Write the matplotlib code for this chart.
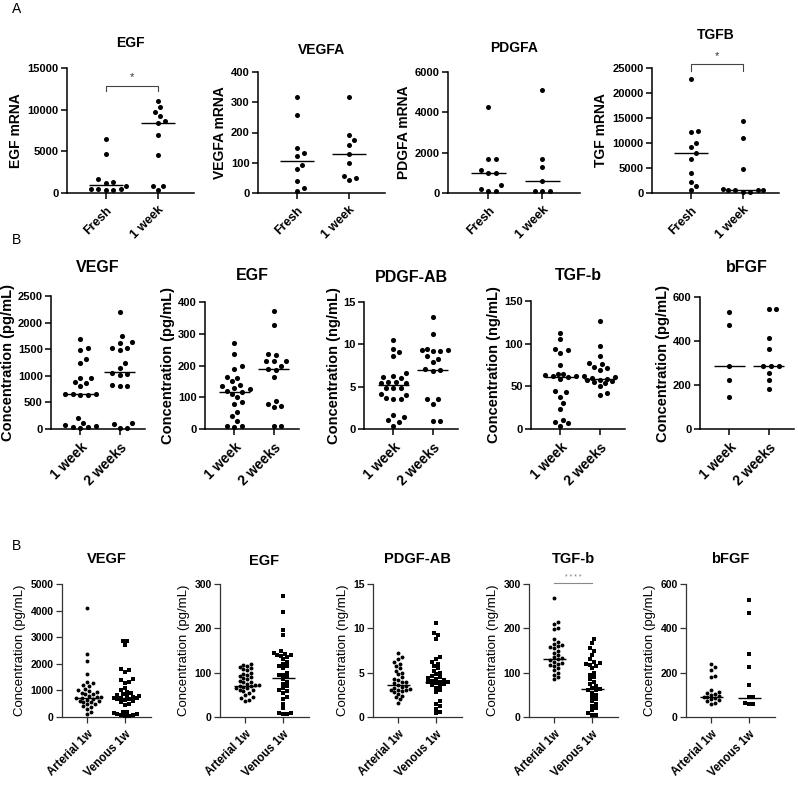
import numpy as np
import matplotlib
matplotlib.use("Agg")
import matplotlib.pyplot as plt

plt.rcParams['font.family'] = ['Liberation Sans', 'DejaVu Sans']

# ---------------- data: row A (mRNA) ----------------
a_groups = ["Fresh", "1 week"]
egf_fresh = [6500, 4700, 1650, 1250, 1350, 900, 350, 500, 500, 350, 500]
egf_1wk = [11100, 10300, 9700, 9200, 8600, 8400, 7000, 4600, 320, 800, 800]
egf_med = [920, 8400]
vegfa_fresh = [316, 259, 149, 132, 121, 94, 79, 39, 8, 17]
vegfa_1wk = [316, 191, 174, 159, 130, 99, 57, 42, 50]
vegfa_med = [107, 130]
pdgfa_fresh = [4260, 1690, 1690, 990, 990, 1120, 410, 120, 200, 120]
pdgfa_1wk = [5120, 1690, 1270, 580, 80, 80, 80]
pdgfa_med = [990, 580]
tgfb_fresh = [22800, 12200, 12500, 10100, 9300, 8000, 6800, 4000, 2300, 1500, 550]
tgfb_1wk = [14400, 11000, 4900, 550, 800, 550, 550, 550, 150, 150]
tgfb_med = [8000, 670]

# ---------------- data: row B (1 vs 2 weeks) ----------------
b_groups = ["1 week", "2 weeks"]
b_vegf_1 = [1690, 1530, 1490, 1310, 1240, 960, 950, 880, 860, 800, 650, 640, 640,
            650, 660, 210, 120, 60, 80, 40, 20, 30]
b_vegf_2 = [2200, 1740, 1630, 1620, 1530, 1520, 1480, 1240, 1140, 1060, 1030, 1010,
            810, 800, 820, 20, 90, 120, 10]
b_vegf_med = [655, 1063]
b_egf_1 = [272, 235, 197, 190, 165, 160, 150, 140, 135, 130, 125, 120, 117, 110,
           100, 85, 80, 55, 40, 25, 8, 6, 10]
b_egf_2 = [372, 327, 236, 233, 213, 215, 214, 197, 186, 188, 165, 79, 87, 68, 71, 8, 10]
b_egf_med = [116, 188]
b_pdgf_1 = [10.5, 9.1, 9.5, 8.6, 6.0, 6.2, 6.6, 6.3, 5.4, 5.5, 5.6, 5.4, 4.8, 4.9,
            4.9, 4.1, 4.0, 3.5, 3.5, 3.7, 1.1, 1.4, 1.6, 0.4, 0.8]
b_pdgf_2 = [13.2, 11.2, 9.4, 9.2, 9.3, 9.3, 9.2, 8.6, 8.3, 7.9, 7.1, 7.0, 6.8,
            3.6, 3.6, 3.0, 1.0, 1.0]
b_pdgf_med = [5.2, 7.0]
b_tgf_1 = [113, 105, 94, 92, 89, 75, 65, 64, 63, 62, 62, 61, 59, 44, 43, 38, 31,
           24, 11, 8, 7, 4]
b_tgf_2 = [127, 97, 85, 77, 76, 73, 71, 69, 62, 61, 60, 59, 58, 57, 56, 55, 54,
           50, 42, 40]
b_tgf_med = [61, 59]
b_bfgf_1 = [532, 472, 285, 222, 145]
b_bfgf_2 = [547, 547, 412, 364, 285, 285, 285, 255, 222, 184]
b_bfgf_med = [285, 285]

# ---------------- data: row C (arterial vs venous) ----------------
c_groups = ["Arterial 1w", "Venous 1w"]
c_vegf_a = [4100, 2350, 2100, 1600, 1300, 1280, 1200, 1150, 1050, 1000, 980, 950,
            900, 880, 850, 800, 760, 740, 720, 700, 690, 650, 620, 600, 580, 550,
            500, 480, 420, 380, 300, 180, 120]
c_vegf_v = [2870, 2850, 2700, 1800, 1750, 1680, 1420, 1400, 1300, 1280, 1100, 1000,
            950, 900, 850, 820, 800, 780, 750, 730, 720, 700, 680, 660, 640, 600,
            550, 500, 450, 200, 180, 150, 120, 100, 80, 60, 50, 40]
c_vegf_med = [720, 716]
c_egf_a = [120, 118, 115, 112, 110, 108, 105, 100, 98, 95, 92, 90, 88, 85, 82, 80,
           78, 75, 73, 72, 70, 70, 68, 66, 65, 62, 60, 58, 55, 50, 45, 42, 38, 36]
c_egf_v = [272, 236, 196, 185, 148, 145, 143, 140, 140, 138, 135, 130, 125, 120,
           115, 115, 110, 100, 95, 95, 90, 85, 80, 75, 70, 65, 60, 58, 55, 45, 40,
           30, 20, 10, 8, 7, 6]
c_egf_med = [70, 89]
c_pdgf_a = [7.2, 6.8, 6.5, 6.2, 6.0, 5.8, 5.5, 5.2, 5.0, 4.8, 4.5, 4.3, 4.2, 4.0,
            3.9, 3.8, 3.6, 3.5, 3.4, 3.3, 3.2, 3.1, 3.0, 3.0, 2.9, 2.8, 2.6, 2.4,
            2.2, 2.0, 1.6]
c_pdgf_v = [10.6, 9.5, 9.2, 8.8, 6.8, 6.5, 6.2, 6.0, 5.8, 5.5, 5.2, 5.0, 4.8, 4.6,
            4.5, 4.4, 4.3, 4.2, 4.1, 4.0, 4.0, 3.9, 3.8, 3.7, 3.6, 3.5, 3.3, 3.0,
            2.8, 1.8, 1.5, 1.2, 0.9, 0.6, 0.4]
c_pdgf_med = [3.6, 4.0]
c_tgf_a = [268, 215, 210, 200, 198, 175, 170, 165, 162, 160, 158, 155, 150, 145,
           140, 135, 132, 130, 128, 125, 122, 120, 118, 115, 110, 105, 100, 95, 90, 85]
c_tgf_v = [176, 168, 155, 148, 140, 130, 125, 122, 120, 118, 115, 110, 100, 95, 90,
           85, 80, 75, 70, 66, 64, 62, 60, 55, 50, 45, 40, 35, 30, 25, 20, 15, 10, 5, 5]
c_tgf_med = [130, 64]
c_bfgf_a = [240, 225, 210, 185, 182, 120, 115, 110, 105, 100, 95, 92, 90, 85, 80,
            75, 70, 65, 60]
c_bfgf_v = [530, 470, 285, 225, 145, 90, 88, 65, 60, 60]
c_bfgf_med = [92, 87]

# ---------------- layout helpers ----------------
W, H = 798, 790
fig = plt.figure(figsize=(W / 100, H / 100), dpi=100)


def rect(l, t, r, b):
    return [l / W, 1 - b / H, (r - l) / W, (b - t) / H]


def swarm_x(ax, xc, vals, d, fx, fy, maxw):
    """Scatter-dot layout: points at similar heights are spread sideways,
    within a maximum half-width (in category units)."""
    vals = np.asarray(vals, float)
    pix = ax.transData.transform(np.column_stack([np.full(len(vals), xc), vals]))
    x0 = pix[0, 0]
    ys = pix[:, 1]
    unit = ax.transData.transform([[xc + 1, 0]])[0, 0] - x0
    maxoff = maxw * unit
    step = d * 0.5
    cands = [0.0]
    m = 1
    while m * step <= maxoff:
        cands += [m * step, -m * step]
        m += 1
    order = np.argsort(vals)
    placed = []
    xo = np.zeros(len(vals))
    dxm, dym = d * fx, d * fy
    for i in order:
        y = ys[i]
        best, best_score = 0.0, -1
        for off in cands:
            if placed:
                score = min(((px - off) / dxm) ** 2 + ((py - y) / dym) ** 2
                            for px, py in placed)
            else:
                score = 1e9
            if score >= 1:
                best = off
                break
            if score > best_score + 1e-9:
                best, best_score = off, score
        placed.append((best, y))
        xo[i] = best
    inv = ax.transData.inverted()
    return inv.transform(np.column_stack([x0 + xo, ys]))[:, 0]


def panel(box, xlim, ymax, yticks, data, meds, labels, title, title_y, ylabel, st,
          markers=("o", "o")):
    ax = fig.add_axes(rect(*box))
    ax.set_xlim(*xlim)
    ax.set_ylim(0, ymax)
    for s in ("top", "right"):
        ax.spines[s].set_visible(False)
    for s in ("left", "bottom"):
        ax.spines[s].set_linewidth(st["axlw"])
        ax.spines[s].set_color(st["axc"])
    ax.set_yticks(yticks)
    ax.set_yticklabels([str(v) for v in yticks], fontsize=st["tfs"], fontweight="bold")
    ax.set_xticks([1, 2])
    ax.set_xticklabels(labels, rotation=45, ha="right", rotation_mode="anchor",
                       fontsize=st["xfs"], fontweight="bold")
    ax.tick_params(axis="both", length=4, width=st["axlw"], color=st["axc"], pad=2)
    ax.tick_params(axis="x", pad=4)
    ax.set_ylabel(ylabel, fontsize=st["yfs"], fontweight=st["yw"], labelpad=st["ylp"])
    d = st["ms"] * 100 / 72
    for k, (vals, mk) in enumerate(zip(data, markers)):
        xs = swarm_x(ax, k + 1, vals, d, st["fx"], st["fy"], st["maxw"])
        ax.plot(xs, vals, linestyle="none", marker=mk, ms=st["ms"], mfc="black",
                mec="black", mew=0, clip_on=False, zorder=3)
        ax.plot([k + 1 - st["mw"], k + 1 + st["mw"]], [meds[k], meds[k]], color="black",
                lw=st["mlw"], zorder=4, solid_capstyle="butt")
    cx = (box[0] + box[2]) / 2
    fig.text(cx / W, 1 - title_y / H, title, ha="center", va="center",
             fontsize=st["ttfs"], fontweight="bold")
    return ax


st_a = dict(axlw=1.1, axc="black", tfs=8, xfs=9, yfs=10, yw="bold", ylp=3, ms=3.6,
            mw=0.33, mlw=1.0, ttfs=10, fx=1.15, fy=1.4, maxw=0.4)
st_b = dict(axlw=1.1, axc="black", tfs=8, xfs=10, yfs=10.5, yw="bold", ylp=2, ms=3.7,
            mw=0.4, mlw=1.0, ttfs=11.5, fx=1.1, fy=1.3, maxw=0.42)
st_c = dict(axlw=0.9, axc="#333333", tfs=7.5, xfs=8.3, yfs=9.5, yw="normal", ylp=3, ms=2.8,
            mw=0.3, mlw=1.0, ttfs=10.5, fx=0.95, fy=1.05, maxw=0.36)

# ---------------- row A ----------------
xa = (0.25, 2.7)
ax = panel((67, 68, 194, 193), xa, 15000, [0, 5000, 10000, 15000], [egf_fresh, egf_1wk],
           egf_med, a_groups, "EGF", 43, "EGF mRNA", st_a)
ax.plot([1, 1, 2, 2], [12200, 12900, 12900, 12200], color="#444444", lw=0.8)
ax.text(1.5, 13300, "*", ha="center", va="bottom", fontsize=8, color="#333333")

panel((258, 72, 385, 193), xa, 400, [0, 100, 200, 300, 400], [vegfa_fresh, vegfa_1wk],
      vegfa_med, a_groups, "VEGFA", 50, "VEGFA mRNA", st_a)
panel((448, 72, 580, 193), xa, 6000, [0, 2000, 4000, 6000], [pdgfa_fresh, pdgfa_1wk],
      pdgfa_med, a_groups, "PDGFA", 48, "PDGFA mRNA", st_a)
ax = panel((652, 68, 779, 193), xa, 25000, [0, 5000, 10000, 15000, 20000, 25000],
           [tgfb_fresh, tgfb_1wk], tgfb_med, a_groups, "TGFB", 35, "TGF mRNA", st_a)
ax.plot([1, 1, 2, 2], [24500, 25850, 25850, 24500], color="#444444", lw=0.8, clip_on=False)
ax.text(1.5, 26300, "*", ha="center", va="bottom", fontsize=8, color="#333333")

# ---------------- row B ----------------
xb = (0.25, 2.65)
panel((51, 296, 145, 429), xb, 2500, [0, 500, 1000, 1500, 2000, 2500], [b_vegf_1, b_vegf_2],
      b_vegf_med, b_groups, "VEGF", 268, "Concentration (pg/mL)", st_b)
panel((205, 302, 299, 429), xb, 400, [0, 100, 200, 300, 400], [b_egf_1, b_egf_2],
      b_egf_med, b_groups, "EGF", 275, "Concentration (pg/mL)", st_b)
panel((364, 302, 458, 429), xb, 15, [0, 5, 10, 15], [b_pdgf_1, b_pdgf_2],
      b_pdgf_med, b_groups, "PDGF-AB", 277, "Concentration (ng/mL)", st_b)
panel((531, 301, 625, 429), xb, 150, [0, 50, 100, 150], [b_tgf_1, b_tgf_2],
      b_tgf_med, b_groups, "TGF-b", 275, "Concentration (ng/mL)", st_b)
panel((700, 297, 794, 429), xb, 600, [0, 200, 400, 600], [b_bfgf_1, b_bfgf_2],
      b_bfgf_med, b_groups, "bFGF", 268, "Concentration (pg/mL)", st_b)

# ---------------- row C ----------------
xc = (0.33, 2.68)
mk = ("o", "s")
panel((62, 584, 151, 717), xc, 5000, [0, 1000, 2000, 3000, 4000, 5000], [c_vegf_a, c_vegf_v],
      c_vegf_med, c_groups, "VEGF", 559, "Concentration (pg/mL)", st_c, mk)
panel((220, 584, 309, 717), xc, 300, [0, 100, 200, 300], [c_egf_a, c_egf_v],
      c_egf_med, c_groups, "EGF", 561, "Concentration (pg/mL)", st_c, mk)
panel((373, 584, 462, 717), xc, 15, [0, 5, 10, 15], [c_pdgf_a, c_pdgf_v],
      c_pdgf_med, c_groups, "PDGF-AB", 559, "Concentration (ng/mL)", st_c, mk)
ax = panel((529, 584, 618, 717), xc, 300, [0, 100, 200, 300], [c_tgf_a, c_tgf_v],
           c_tgf_med, c_groups, "TGF-b", 559, "Concentration (ng/mL)", st_c, mk)
ax.plot([1, 2], [302, 302], color="#888888", lw=0.8, clip_on=False)
ax.text(1.5, 306, "* * * *", ha="center", va="bottom", fontsize=5, color="#777777")
panel((686, 584, 775, 717), xc, 600, [0, 200, 400, 600], [c_bfgf_a, c_bfgf_v],
      c_bfgf_med, c_groups, "bFGF", 559, "Concentration (pg/mL)", st_c, mk)

# ---------------- panel letters ----------------
fig.text(12 / W, 1 - 9 / H, "A", fontsize=10, va="center", ha="left")
fig.text(12 / W, 1 - 240 / H, "B", fontsize=10, va="center", ha="left")
fig.text(12 / W, 1 - 546 / H, "B", fontsize=10, va="center", ha="left")

fig.savefig("out.png", dpi=100)
